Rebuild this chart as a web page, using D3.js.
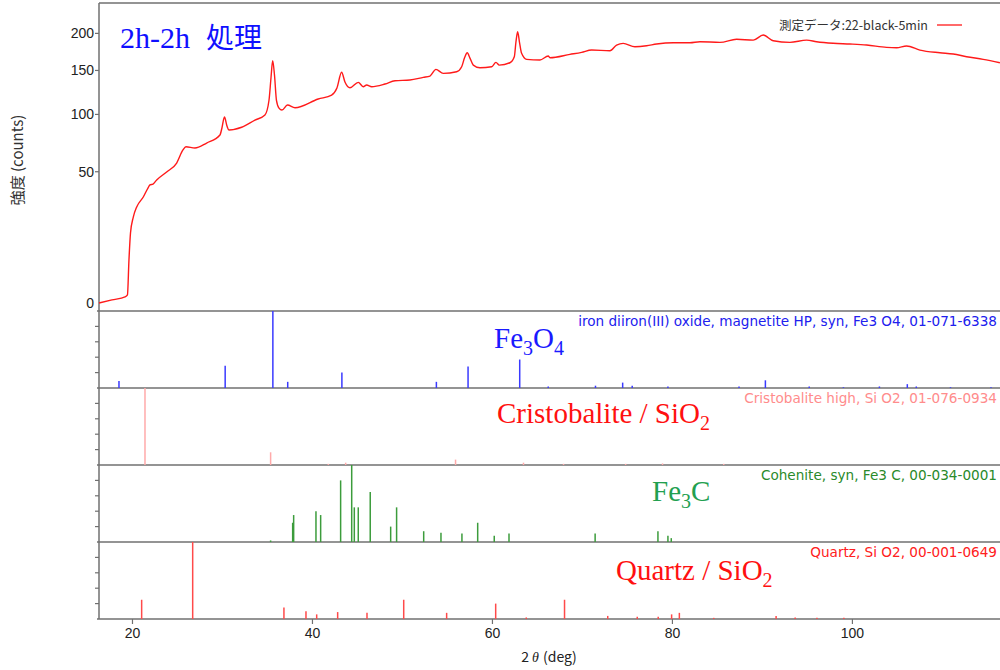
<!DOCTYPE html>
<html><head><meta charset="utf-8">
<script src="https://cdn.jsdelivr.net/npm/d3@7/dist/d3.min.js"></script>
<style>body{margin:0;background:#fff}svg{display:block}</style>
</head><body>
<svg id="c" width="1000" height="670"></svg>
<script>
// measured pattern: 2theta (deg) and intensity (counts)
const scanTheta = [16.28,17.72,19.17,19.44,19.61,19.78,20.09,20.47,21.2,21.72,21.94,22.28,22.69,23.8,24.91,25.61,25.94,26.94,28.24,29.72,29.94,30.22,30.5,30.72,32.13,33.61,34.72,35.17,35.39,35.58,35.78,36.0,36.28,36.61,37.22,38.06,40.64,42.13,42.72,43.24,43.61,44.17,45.09,45.64,46.02,46.58,48.06,49.17,50.83,52.31,53.06,53.72,54.53,56.02,56.58,56.89,57.2,57.5,57.87,58.61,59.91,60.39,60.76,61.94,62.43,62.61,62.8,63.0,63.24,63.8,65.28,66.2,66.39,68.61,69.91,71.02,73.06,73.8,74.53,75.83,77.13,78.24,80.09,81.94,83.06,85.28,87.13,88.98,90.09,91.2,93.06,94.91,96.02,97.87,99.72,101.58,103.8,104.91,106.02,107.5,109.72,111.2,112.69,114.53,116.39];
const scanCounts = [0.13,0.27,0.45,0.6,6.6,15.5,22.6,27.8,33.4,38.9,40.9,41.5,44.2,49.8,56.5,67,69.7,68.6,72.9,80.1,86.6,97.4,88.5,84.7,87.3,94.3,99.4,115,140.7,162.4,144.3,115,106.6,104.5,109.8,107,116.4,120.8,128.8,147.7,135.9,129.1,135.5,130.3,132.3,130.3,133.5,137.4,138.3,141.5,143.1,151.4,146.4,148.4,154.7,165.9,173,165.9,156.8,153.4,154.7,160.3,156.8,159.8,167.6,187.7,202.4,187.7,172.2,164.2,163.3,168.6,166.4,170.8,173.5,176.6,175.7,183.5,185.8,181.2,182.5,184.9,186.7,186.7,188.1,187.2,191.5,190.4,197.6,189.5,187.2,190.4,188.1,185.9,184.9,183.5,180.3,179.8,182.2,176.6,173,171.3,167.7,164.2,159.8];

// reference patterns (2theta, relative intensity %)
const fe3o4Theta = [18.5,30.3,35.6,37.25,43.27,53.77,57.29,63.03,66.2,71.45,74.47,75.53,79.5,87.4,90.33,95.2,99.0,103.0,106.1,107.1,110.9,115.4];
const fe3o4Int   = [9,29,100,8,20,8,28,37,2,3,7,3,2,2,10,2,1,2,5,2,1,1];
const cristTheta = [21.39,35.35,41.76,43.69,55.9,63.45,67.9,74.8,78.9,85.7];
const cristInt   = [100,16.5,1.5,3,7,3,1.5,1.5,2,1.5];
const fe3cTheta  = [35.35,37.8,37.91,40.39,40.91,43.13,44.36,44.65,45.09,46.42,48.69,49.35,52.36,54.28,56.61,58.36,60.2,61.84,71.41,78.39,79.5,79.87];
const fe3cInt    = [2,25,35,40,35,80,100,45,45,65,20,45,14,12,11,25,8,11,11,14,8,5];
const quartzTheta= [21.02,26.69,36.83,39.28,40.47,42.8,46.06,50.14,54.91,60.36,63.76,68.01,72.81,76.09,78.42,79.91,80.77,84.59,91.52,93.64,96.06,99.05];
const quartzInt  = [25,100,15,10,6,9,8,25,8,20,2,25,4,3,3,6,8,1.5,4,2,1.5,1.5];

const yTicks = [0,50,100,150,200];
const xTicks = [20,40,60,80,100];
const panelNames = ["iron diiron(III) oxide, magnetite HP, syn, Fe3 O4, 01-071-6338","Cristobalite high, Si O2, 01-076-0934","Cohenite, syn, Fe3 C, 00-034-0001","Quartz, Si O2, 00-001-0649"];
const legendLabel = "測定データ:22-black-5min";

const svg = d3.select("#c");
const L = 99, R = 1000, T = 3;
const panelTops = [311, 388, 465, 542];
const panelH = 77;
const axisColor = "#707070";

const x = d3.scaleLinear().domain([16.28, 116.4]).range([L, R]);
const y = d3.scaleSqrt().domain([0, 246]).range([310.1, 3.2]);

// frame lines
svg.append("line").attr("x1",L).attr("x2",R).attr("y1",T).attr("y2",T).attr("stroke",axisColor).attr("stroke-width",1.5);
[311,388,465,542,619].forEach(v=>{
  svg.append("line").attr("x1",L-2).attr("x2",R).attr("y1",v).attr("y2",v).attr("stroke",axisColor).attr("stroke-width",1.5);
});
svg.append("line").attr("x1",L).attr("x2",L).attr("y1",T).attr("y2",619).attr("stroke",axisColor).attr("stroke-width",1.5);

// main y axis ticks
const yAxis = svg.append("g");
yTicks.forEach(t=>{
  if (t>0) yAxis.append("line").attr("x1",L-4).attr("x2",L).attr("y1",y(t)).attr("y2",y(t)).attr("stroke",axisColor).attr("stroke-width",1.2);
  yAxis.append("text").attr("x",L-5).attr("y",y(t) + (t===0?-7:0)).attr("dy","0.36em")
    .attr("text-anchor","end").attr("font-family","Liberation Sans, Arial, sans-serif").attr("font-size",14).attr("fill","#222").text(t);
});

// main curve
const pts = scanTheta.map((t,i)=>[t, scanCounts[i]]);
const line = d3.line().x(d=>x(d[0])).y(d=>y(d[1])).curve(d3.curveMonotoneX);
svg.append("path").datum(pts).attr("d",line).attr("fill","none").attr("stroke","#ff1a1a").attr("stroke-width",1.4);

// panels
const panels = [
  {th:fe3o4Theta, it:fe3o4Int, stick:"#3a3aff", name:"#2020ee"},
  {th:cristTheta, it:cristInt, stick:"#ffaaaa", name:"#ff8c8c"},
  {th:fe3cTheta, it:fe3cInt, stick:"#3c9c3c", name:"#2a8a2a"},
  {th:quartzTheta, it:quartzInt, stick:"#ff4a4a", name:"#ff2020"}
];
panels.forEach((p,i)=>{
  const top = panelTops[i], bot = top + panelH;
  const py = d3.scaleLinear().domain([0,100]).range([bot, top]);
  [20,40,60,80].forEach(v=>{
    svg.append("line").attr("x1",L-4).attr("x2",L).attr("y1",py(v)).attr("y2",py(v)).attr("stroke",axisColor).attr("stroke-width",1.2);
  });
  svg.append("g").selectAll("line").data(p.th).join("line")
    .attr("x1",d=>x(d)).attr("x2",d=>x(d))
    .attr("y1",py(0)).attr("y2",(d,j)=>py(p.it[j]))
    .attr("stroke",p.stick).attr("stroke-width",1.5);
  svg.append("text").attr("x",997).attr("y",top+14.5).attr("text-anchor","end")
    .attr("font-family","DejaVu Sans, sans-serif").attr("font-size",13.6).attr("fill",p.name).text(panelNames[i]);
});

// x axis
xTicks.forEach(t=>{
  svg.append("line").attr("x1",x(t)).attr("x2",x(t)).attr("y1",619).attr("y2",624).attr("stroke",axisColor).attr("stroke-width",1.2);
  svg.append("text").attr("x",x(t)).attr("y",638).attr("text-anchor","middle")
    .attr("font-family","Liberation Sans, Arial, sans-serif").attr("font-size",14).attr("fill","#222").text(t);
});
const xl = svg.append("text").attr("x",549).attr("y",662).attr("text-anchor","middle")
  .attr("font-family","Noto Sans CJK JP, sans-serif").attr("font-size",14).attr("fill","#222");
xl.append("tspan").text("2");
xl.append("tspan").attr("font-family","Liberation Serif, serif").attr("font-style","italic").attr("dx",3).text("θ");
xl.append("tspan").attr("dx",4).text("(deg)");

// y axis title
svg.append("text").attr("transform","translate(23,160) rotate(-90)").attr("text-anchor","middle")
  .attr("font-family","Noto Sans CJK JP, sans-serif").attr("font-size",15).attr("fill","#333").text("強度 (counts)");

// legend
svg.append("text").attr("x",928).attr("y",30).attr("text-anchor","end")
  .attr("font-family","Noto Sans CJK JP, sans-serif").attr("font-size",12.5).attr("fill","#333").text(legendLabel);
svg.append("line").attr("x1",937).attr("x2",962).attr("y1",25).attr("y2",25).attr("stroke","#ff1a1a").attr("stroke-width",1.3);

// title
const tt = svg.append("text").attr("x",120).attr("y",48).attr("fill","#1010ff");
tt.append("tspan").attr("font-family","Liberation Serif, serif").attr("font-size",30).text("2h-2h");
tt.append("tspan").attr("dx",16).attr("font-family","Noto Sans CJK JP, sans-serif").attr("font-size",28).text("処理");

// big formula labels
function formula(xp, yp, color, parts){
  const t = svg.append("text").attr("x",xp).attr("y",yp).attr("fill",color)
    .attr("font-family","Liberation Serif, serif").attr("font-size",29);
  parts.forEach(pt=>{
    if (pt.sub) t.append("tspan").attr("font-size",20).attr("dy",7).text(pt.s);
    else t.append("tspan").attr("dy",pt.back?-7:0).text(pt.s);
  });
}
formula(494,348,"#1a1aff",[{s:"Fe"},{s:"3",sub:true},{s:"O",back:true},{s:"4",sub:true}]);
formula(497,423,"#ff1010",[{s:"Cristobalite / SiO"},{s:"2",sub:true}]);
formula(652,501,"#22a050",[{s:"Fe"},{s:"3",sub:true},{s:"C",back:true}]);
formula(616,580,"#ff1010",[{s:"Quartz / SiO"},{s:"2",sub:true}]);
</script>
</body></html>
